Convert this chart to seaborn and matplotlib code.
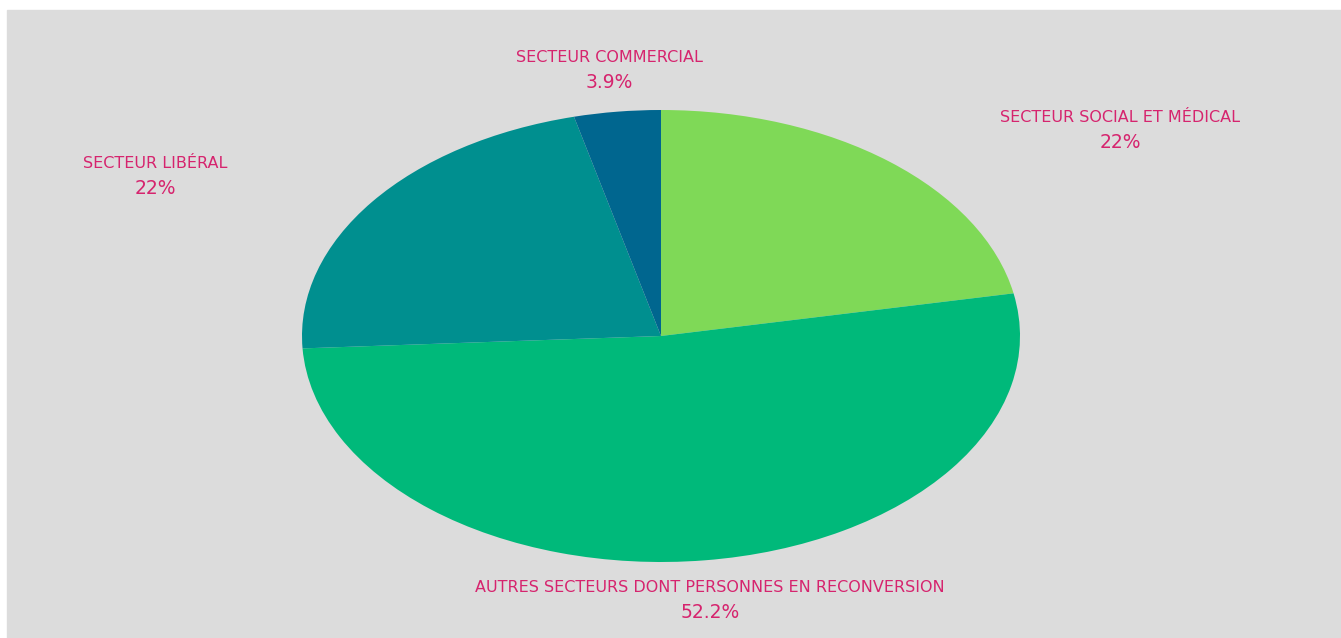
import matplotlib
matplotlib.use("Agg")
import matplotlib.pyplot as plt
import seaborn as sns

# Données (ordre horaire à partir du haut)
secteurs = ['Secteur social et médical', 'Autres secteurs dont personnes en reconversion',
            'Secteur libéral', 'Secteur commercial']
parts = [22, 52.2, 22, 3.9]
couleurs = ['#7fd957', '#00b97a', '#008f8f', '#00668f']
etiquettes = ['22%', '52.2%', '22%', '3.9%']

sns.set_style('white')
plt.rcParams['font.family'] = ['DejaVu Sans']

fig = plt.figure(figsize=(13.41, 6.38), dpi=100, facecolor='white')
W, H = 1341, 638
ax = fig.add_axes([7 / W, 0, 1 - 7 / W, (H - 10) / H])

ax.pie(parts, colors=couleurs, startangle=90, counterclock=False,
       wedgeprops=dict(linewidth=0))

# centre du camembert (pixels) et rayons -> ellipse étirée
cx, cy, rx, ry = 661, 336, 359, 226
ax.set_aspect('auto')
ax.set_xlim((7 - cx) / rx, (W - cx) / rx)
ax.set_ylim(-(H - cy) / ry, (cy - 10) / ry)
ax.axis('off')
fig.patches.append(plt.Rectangle((7 / W, 0), 1 - 7 / W, (H - 10) / H,
                                 transform=fig.transFigure, color='#dcdcdc', zorder=-1))

def px(x, y):
    return (x - cx) / rx, (cy - y) / ry

pos_labels = [(1120, 117), (710, 587), (155, 163), (609, 58)]
rose = '#d6246e'
for nom, pct, (x, y) in zip(secteurs, etiquettes, pos_labels):
    ax.text(*px(x, y), nom.upper(), color=rose, fontsize=11.5, ha='center', va='center')
    ax.text(*px(x, y + 25), pct, color=rose, fontsize=13.5, ha='center', va='center')

fig.savefig('out.png', dpi=100, facecolor='white')
